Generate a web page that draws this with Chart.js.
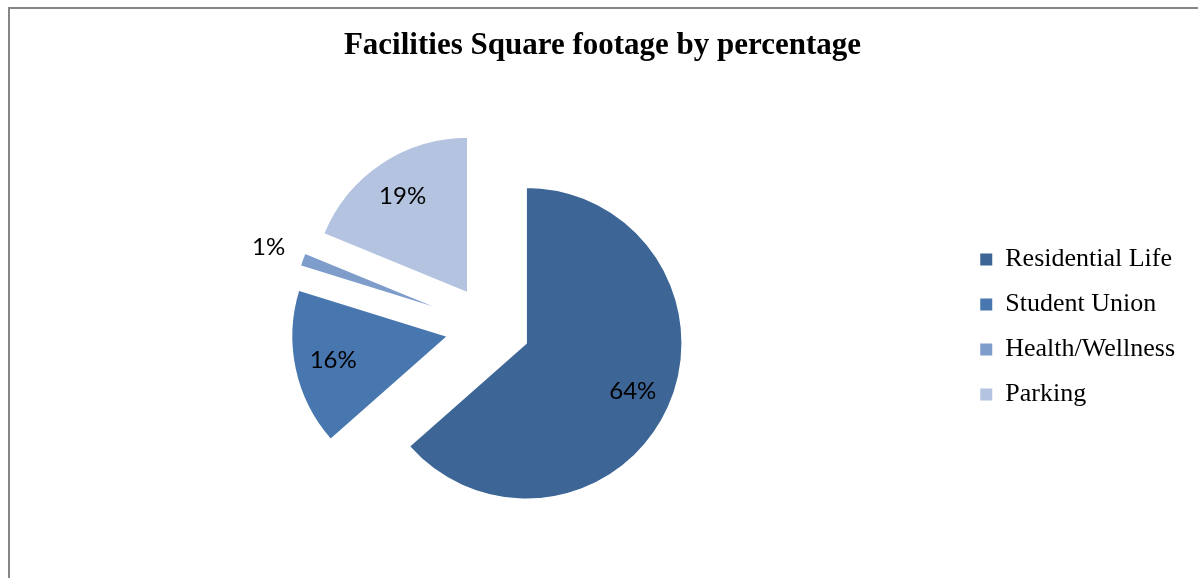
<!DOCTYPE html>
<html>
<head>
<meta charset="utf-8">
<title>Facilities Square footage by percentage</title>
<script src="https://cdn.jsdelivr.net/npm/chart.js@4.4.0/dist/chart.umd.min.js"></script>
<style>
  html, body { margin: 0; padding: 0; background: #fff; overflow: hidden; }
  #frame {
    position: absolute; left: 8px; top: 7px; width: 1400px; height: 800px;
    border-left: 2px solid #868686; border-top: 2px solid #868686;
  }
  #chart { position: absolute; left: 0; top: 0; }
</style>
</head>
<body>
<div id="frame"></div>
<canvas id="chart" width="1198" height="578"></canvas>
<script>
// Facilities square footage, share of total (%)
const categories = ['Residential Life', 'Student Union', 'Health/Wellness', 'Parking'];
const shares = [63.5, 16.3, 1.4, 18.8];
const sliceColors = ['#3d6596', '#4877b0', '#7f9dcb', '#b4c4e0'];
const explodeBy = [39, 44, 44, 41];

// push every slice out from the centre along its middle angle
const explodePlugin = {
    id: 'explode',
    afterDatasetUpdate(chart, args) {
        args.meta.data.forEach((arc, i) => {
            const mid = (arc.startAngle + arc.endAngle) / 2;
            arc.x += Math.cos(mid) * explodeBy[i];
            arc.y += Math.sin(mid) * explodeBy[i];
        });
    }
};

// percent labels, inside the slice, outside for tiny ones
const pctLabels = {
    id: 'pctLabels',
    afterDatasetsDraw(chart) {
        const ctx = chart.ctx;
        const arcs = chart.getDatasetMeta(0).data;
        ctx.save();
        ctx.font = '24px Lato';
        ctx.fillStyle = '#000';
        ctx.textAlign = 'center';
        ctx.textBaseline = 'middle';
        arcs.forEach((arc, i) => {
            const mid = (arc.startAngle + arc.endAngle) / 2;
            const r = arc.outerRadius * (shares[i] < 5 ? 1.23 : 0.75);
            ctx.fillText(Math.round(shares[i]) + '%', arc.x + Math.cos(mid) * r, arc.y + Math.sin(mid) * r);
        });
        ctx.restore();
    }
};

new Chart(document.getElementById('chart'), {
    type: 'pie',
    data: {
        labels: categories,
        datasets: [{
            data: shares,
            backgroundColor: sliceColors,
            borderColor: '#ffffff',
            borderWidth: 1.5,
            radius: 156
        }]
    },
    options: {
        responsive: false,
        devicePixelRatio: 1,
        animation: false,
        layout: { padding: { left: 20, right: 13, top: 0, bottom: 0 } },
        plugins: {
            title: {
                display: true,
                text: 'Facilities Square footage by percentage',
                color: '#000',
                font: { family: 'Liberation Serif', size: 31, weight: 'bold' },
                padding: { top: 27, bottom: 12 }
            },
            legend: {
                position: 'right',
                fullSize: false,
                labels: {
                    color: '#000',
                    font: { family: 'Liberation Serif', size: 26 },
                    boxWidth: 12,
                    boxHeight: 12,
                    padding: 19,
                    generateLabels: chart => Chart.overrides.pie.plugins.legend.labels
                        .generateLabels(chart).map(l => Object.assign(l, { lineWidth: 0 }))
                }
            },
            tooltip: { enabled: false }
        }
    },
    plugins: [explodePlugin, pctLabels]
});
</script>
</body>
</html>
